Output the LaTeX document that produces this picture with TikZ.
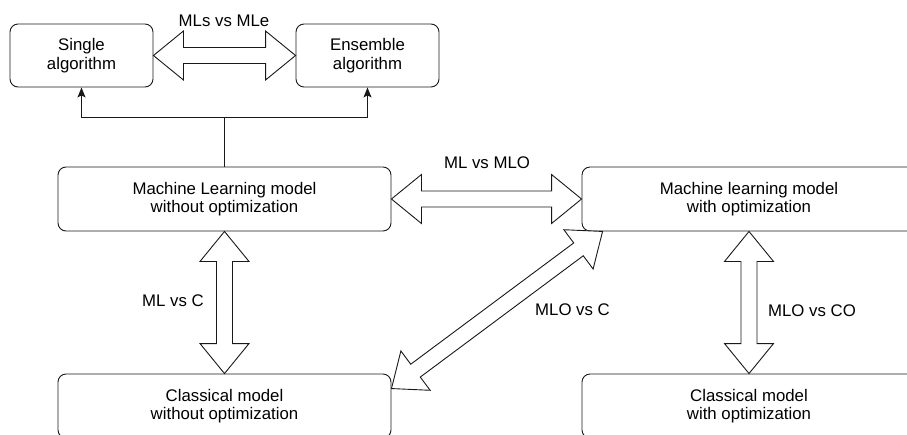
\documentclass[tikz,border=0pt]{standalone}
\usepackage{fontspec}
\setmainfont{Liberation Sans}
\usetikzlibrary{calc,arrows.meta}

% Hollow double-headed block arrow between two points
% (head length 30, head half-width 24.5, shaft half-width 8)
\newcommand\blockarrow[2]{%
  \coordinate (ba-s) at ($(#1)!30pt!(#2)$);
  \coordinate (ba-e) at ($(#2)!30pt!(#1)$);
  \draw[blockline]
    (#1) -- ($(ba-s)!24.5pt!90:(#2)$) -- ($(ba-s)!8pt!90:(#2)$)
    -- ($(ba-e)!8pt!-90:(#1)$) -- ($(ba-e)!24.5pt!-90:(#1)$)
    -- (#2)
    -- ($(ba-e)!24.5pt!90:(#1)$) -- ($(ba-e)!8pt!90:(#1)$)
    -- ($(ba-s)!8pt!-90:(#2)$) -- ($(ba-s)!24.5pt!-90:(#2)$)
    -- cycle;
}

\begin{document}
\begin{tikzpicture}[x=1pt,y=-1pt,
  every node/.style={font=\fontsize{16.8}{18.5}\selectfont, text=black},
  box/.style={draw=black!90, line width=0.9pt, rounded corners=8pt,
    align=center, inner sep=0pt},
  smallbox/.style={box, minimum width=143pt, minimum height=63pt},
  widebox/.style={box, minimum width=333pt, minimum height=64pt},
  blockline/.style={draw=black!90, line width=0.9pt, fill=white, line join=miter},
  feed/.style={draw=black!90, line width=0.9pt,
    -{Stealth[length=10pt,width=8pt,inset=2pt]}},
  lbl/.style={inner sep=0pt}]

\useasboundingbox (0,0) rectangle (907,434);
\clip (0,0) rectangle (907,434);

% boxes
\node[smallbox] (single) at (81.5,55.5) {Single\\algorithm};
\node[smallbox] (ensemble) at (367.5,55.5) {Ensemble\\algorithm};
\node[widebox] (ml) at (224.5,199) {Machine Learning model\\without optimization};
\node[widebox, minimum width=334pt] (mlo) at (749,199) {Machine learning model\\with optimization};
\node[widebox] (cl) at (224.5,406) {Classical model\\without optimization};
\node[widebox, minimum width=334pt] (co) at (749,406) {Classical model\\with optimization};

% branching feed from the ML model to both algorithm types
\coordinate (split) at ($(ml.north)+(0,-49)$);
\draw[line width=0.9pt, draw=black!90] (ml.north) -- (split);
\draw[feed] (split) -| (single.south);
\draw[feed] (split) -| (ensemble.south);

% comparison arrows
\blockarrow{single.east}{ensemble.west}
\blockarrow{ml.east}{mlo.west}
\blockarrow{ml.south}{cl.north}
\blockarrow{mlo.south}{co.north}
\coordinate (diagA) at ($(mlo.south west)+(21,0)$);
\coordinate (diagB) at ($(cl.north east)+(0,15)$);
\blockarrow{diagA}{diagB}

% comparison labels
\node[lbl] (l1) at (224,21) {MLs vs MLe};
\node[lbl] (l2) at (487,162.5) {ML vs MLO};
\node[lbl] (l3) at (173,301) {ML vs C};
\node[lbl] (l4) at (572.5,310) {MLO vs C};
\node[lbl] (l5) at (812,310.5) {MLO vs CO};

\end{tikzpicture}
\end{document}
